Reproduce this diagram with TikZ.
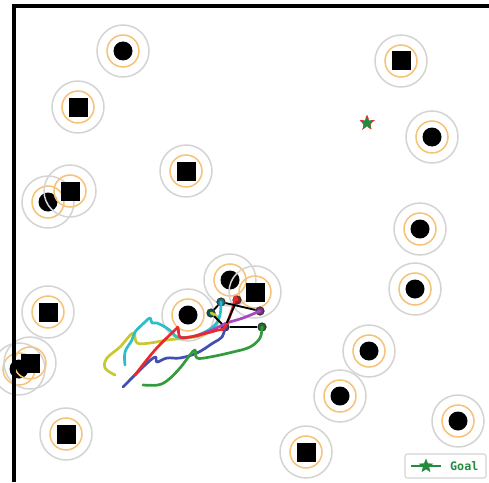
\documentclass[tikz,border=0pt]{standalone}
\usepackage{fontspec}
\setmonofont{DejaVu Sans Mono}
\usetikzlibrary{shapes.geometric}

\definecolor{ringgray}{RGB}{212,212,212}
\definecolor{ringorange}{RGB}{247,195,120}
\definecolor{goalgreen}{RGB}{34,139,60}
\definecolor{trajyellow}{RGB}{200,200,50}
\definecolor{trajcyan}{RGB}{40,190,205}
\definecolor{trajblue}{RGB}{65,80,175}
\definecolor{trajred}{RGB}{235,40,45}
\definecolor{trajgreen}{RGB}{50,155,60}
\definecolor{trajpurple}{RGB}{170,70,190}

\tikzset{
  outerring/.style={draw=ringgray, line width=1.3pt},
  innerring/.style={draw=ringorange, line width=1.3pt},
  traj/.style={line width=2.3pt, line cap=round, line join=round},
  robot/.style={circle, draw=black!80, line width=0.8pt, inner sep=0pt, minimum size=7pt},
  formation/.style={black, line width=1.6pt},
  goalstar/.style={star, star points=5, star point ratio=2.3, inner sep=0pt, minimum size=13pt, fill=goalgreen}
}

\begin{document}
\begin{tikzpicture}[x=0.03cm, y=-0.03cm]

% --- Canvas ---
\useasboundingbox (0,0) rectangle (489,482);
\fill[white] (0,0) rectangle (489,482);

% --- Parameters ---
\def\rsafe{26}
\def\rbuf{16}
\def\rdisk{9.5}
\def\hside{9.5}

% --- Obstacles: disks ---
\foreach \px/\py in {123/51, 48/202, 432/137, 420/229, 415/289, 230/280,
                     188/315, 369/351, 340/396, 458/421, 19/369} {
  \draw[outerring] (\px,\py) circle (\rsafe);
  \draw[innerring] (\px,\py) circle (\rbuf);
  \fill[black] (\px,\py) circle (\rdisk);
}

% --- Obstacles: boxes ---
\foreach \px/\py in {78/107, 186/171, 70/191, 401/61, 255/292, 48/312,
                     30/363, 66/434, 306/452} {
  \draw[outerring] (\px,\py) circle (\rsafe);
  \draw[innerring] (\px,\py) circle (\rbuf);
  \fill[black] (\px-\hside,\py-\hside) rectangle (\px+\hside,\py+\hside);
}

% --- Robots ---
\node[robot, fill=trajcyan!60!black]   (r1) at (221,302) {};
\node[robot, fill=trajred!70!black]    (r2) at (237,300) {};
\node[robot, fill=teal!70!black]       (r3) at (211,313) {};
\node[robot, fill=trajpurple!70!black] (r4) at (260,311) {};
\node[robot, fill=trajblue!80!black]   (r5) at (225,327) {};
\node[robot, fill=trajgreen!70!black]  (r6) at (262,327) {};

% --- Trajectories ---
\draw[traj, trajyellow] plot[smooth, tension=0.6] coordinates {
      (115,375) (105,368) (107,358) (120,347) (133,333) (137,343) (150,343)
      (167,340) (187,338) (203,335) (215,327) (218,318) (r3)};
\draw[traj, trajcyan] plot[smooth, tension=0.6] coordinates {
      (125,365) (125,352) (132,340) (135,332) (145,322) (150,318) (152,323)
      (157,323) (165,327) (172,332) (177,337) (190,337) (203,333) (215,325)
      (220,315) (r1)};
\draw[traj, trajblue] plot[smooth, tension=0.6] coordinates {
      (123,387) (143,367) (155,357) (157,362) (167,358) (180,358) (197,353)
      (213,343) (222,337) (r5)};
\draw[traj, trajpurple] plot[smooth, tension=0.6] coordinates {
      (196,336) (212,330) (227,323) (243,318) (r4)};
\draw[traj, trajred] plot[smooth, tension=0.6] coordinates {
      (135,375) (155,350) (175,330) (178,328) (180,337) (190,337) (207,333)
      (218,330) (225,327) (233,307) (235,297) (r2)};
\draw[traj, trajgreen] plot[smooth, tension=0.6] coordinates {
      (143,385) (158,385) (168,380) (180,368) (190,355) (195,350) (197,358)
      (210,357) (233,352) (250,347) (260,338) (r6)};

% --- Formation ---
\draw[formation] (r1) -- (r4);
\draw[formation] (r3) -- (r1);
\draw[formation] (r3) -- (r5);
\draw[formation] (r5) -- (r2);
\draw[formation] (r5) -- (r6);

% --- Goal ---
\node[goalstar, draw=trajred, dashed, line width=0.6pt] (goal) at (367,123) {};

% --- Frame ---
\draw[black, line width=2.8pt] (14,482) -- (14,6) -- (489,6);

% --- Legend ---
\draw[ringgray, rounded corners=2pt, line width=0.9pt, fill=white]
      (405,454) rectangle (486,478);
\coordinate (legL) at (411,466);
\coordinate (legR) at (441,466);
\draw[goalgreen, line width=1.8pt] (legL) -- (legR);
\node[goalstar] (legstar) at (426,466) {};
\node[anchor=west, text=goalgreen, font=\ttfamily\bfseries] (legtext) at (446,466) {Goal};

\end{tikzpicture}
\end{document}
